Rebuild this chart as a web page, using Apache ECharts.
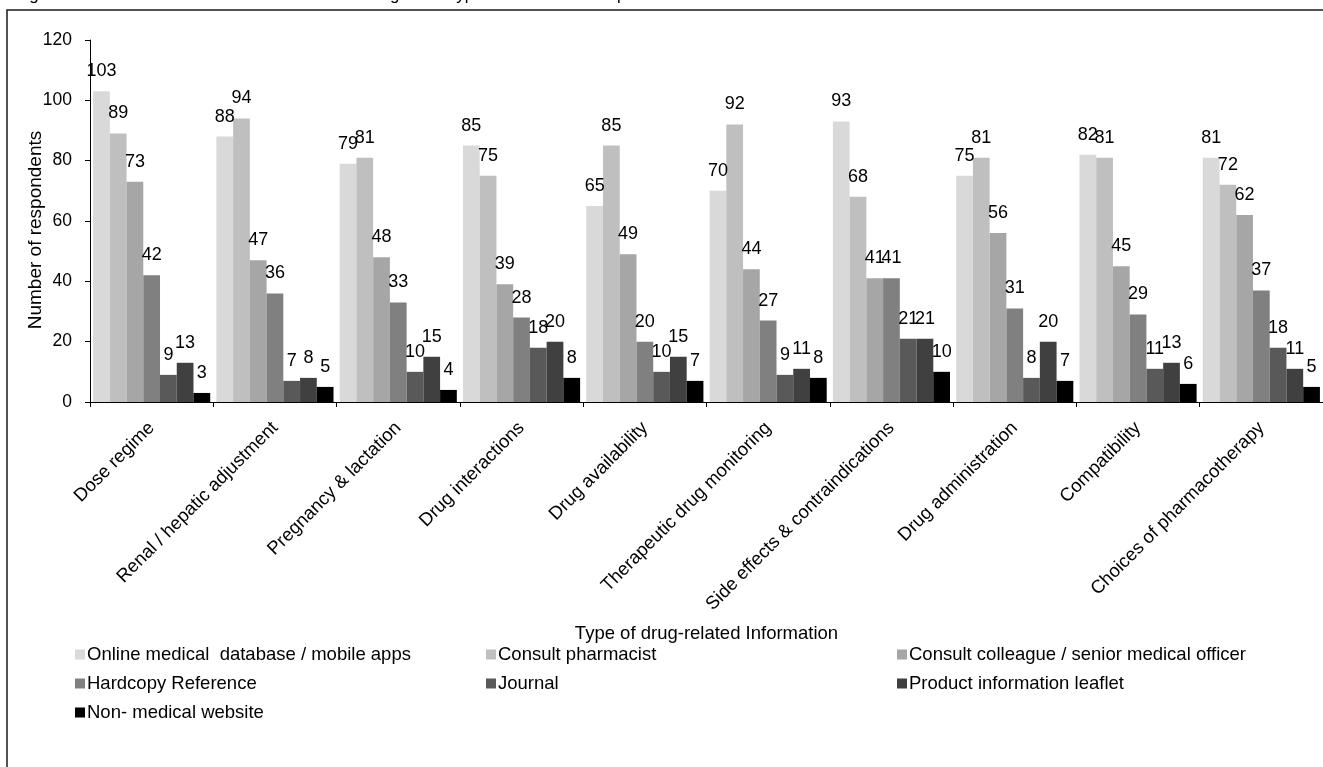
<!DOCTYPE html>
<html>
<head>
<meta charset="utf-8">
<script src="https://cdn.jsdelivr.net/npm/echarts@6/dist/echarts.min.js"></script>
<style>
  html, body { margin: 0; padding: 0; background: #fff; }
  #chart { width: 1323px; height: 767px; }
</style>
</head>
<body>
<div id="chart"></div>
<script>
// Categories of drug-related information
const categories = [
  'Dose regime',
  'Renal / hepatic adjustment',
  'Pregnancy & lactation',
  'Drug interactions',
  'Drug availability',
  'Therapeutic drug monitoring',
  'Side effects & contraindications',
  'Drug administration',
  'Compatibility',
  'Choices of pharmacotherapy'
];

// Information sources (series names)
const sourceNames = [
  'Online medical  database / mobile apps',
  'Consult pharmacist',
  'Consult colleague / senior medical officer',
  'Hardcopy Reference',
  'Journal',
  'Product information leaflet',
  'Non- medical website'
];

// Respondent counts per source, one value per category
const onlineDatabase = [103, 88, 79, 85, 65, 70, 93, 75, 82, 81];
const consultPharmacist = [89, 94, 81, 75, 85, 92, 68, 81, 81, 72];
const consultColleague = [73, 47, 48, 39, 49, 44, 41, 56, 45, 62];
const hardcopyReference = [42, 36, 33, 28, 20, 27, 41, 31, 29, 37];
const journal = [9, 7, 10, 18, 10, 9, 21, 8, 11, 18];
const productLeaflet = [13, 8, 15, 20, 15, 11, 21, 20, 13, 11];
const nonMedicalWebsite = [3, 5, 4, 8, 7, 8, 10, 7, 6, 5];

// Y axis ticks
const yTicks = [0, 20, 40, 60, 80, 100, 120];

const seriesValues = [
  onlineDatabase, consultPharmacist, consultColleague, hardcopyReference,
  journal, productLeaflet, nonMedicalWebsite
];
const shades = ['#d9d9d9', '#bfbfbf', '#a6a6a6', '#808080', '#595959', '#404040', '#000000'];

const FONT = "'Liberation Sans', Arial, sans-serif";

const series = sourceNames.map((name, i) => ({
  name: name,
  type: 'bar',
  data: seriesValues[i],
  barGap: '0%',
  barCategoryGap: '5%',
  itemStyle: { color: shades[i] },
  label: {
    show: true,
    position: 'top',
    distance: 11,
    color: '#000',
    fontFamily: FONT,
    fontSize: 18
  },
  animation: false
}));

// Legend laid out in three columns, one legend block per entry
const legendCols = [75, 486, 897];
const legendRows = [645, 674, 703];
const legends = sourceNames.map((name, i) => ({
  data: [name],
  left: legendCols[i % 3],
  top: legendRows[Math.floor(i / 3)],
  padding: 0,
  itemWidth: 10,
  itemHeight: 10,
  icon: 'rect',
  selectedMode: false,
  textStyle: {
    fontFamily: FONT,
    fontSize: 18.5,
    color: '#000',
    padding: [0, 0, 0, -3]
  }
}));

const chart = echarts.init(document.getElementById('chart'), null, { renderer: 'canvas' });

chart.setOption({
  backgroundColor: '#fff',
  animation: false,
  textStyle: { fontFamily: FONT },
  legend: legends,
  grid: {
    left: 90,
    top: 40,
    width: 1236,
    height: 362,
    containLabel: false
  },
  xAxis: {
    type: 'category',
    data: categories,
    name: 'Type of drug-related Information',
    nameLocation: 'middle',
    nameGap: 222,
    nameMoveOverlap: false,
    nameTextStyle: { fontFamily: FONT, fontSize: 18.5, color: '#000' },
    axisLine: { lineStyle: { color: '#000', width: 1 } },
    axisTick: { show: true, length: 5, lineStyle: { color: '#000' } },
    axisLabel: {
      rotate: 45,
      interval: 0,
      margin: 23,
      fontFamily: FONT,
      fontSize: 18.5,
      color: '#000'
    },
    splitLine: { show: false }
  },
  yAxis: {
    type: 'value',
    min: yTicks[0],
    max: yTicks[yTicks.length - 1],
    interval: yTicks[1] - yTicks[0],
    name: 'Number of respondents',
    nameLocation: 'middle',
    nameGap: 45,
    nameMoveOverlap: false,
    nameTextStyle: { fontFamily: FONT, fontSize: 19, color: '#000', padding: [0, 18, 0, 0] },
    axisLine: { show: true, lineStyle: { color: '#000', width: 1 } },
    axisTick: { show: true, length: 5, lineStyle: { color: '#000' } },
    axisLabel: {
      margin: 18,
      fontFamily: FONT,
      fontSize: 17.5,
      color: '#000'
    },
    splitLine: { show: false }
  },
  graphic: [
    {
      type: 'rect',
      silent: true,
      shape: { x: 7, y: 10, width: 1400, height: 800 },
      style: { fill: 'none', stroke: '#1a1a1a', lineWidth: 1.5 },
      z: -1
    },
    {
      type: 'text',
      silent: true,
      left: 15,
      top: -13,
      style: {
        text: 'Figure 4: Preferred source of information according to the type of information required',
        fontFamily: FONT,
        fontSize: 17,
        fill: '#000'
      }
    }
  ],
  series: series
});
</script>
</body>
</html>
